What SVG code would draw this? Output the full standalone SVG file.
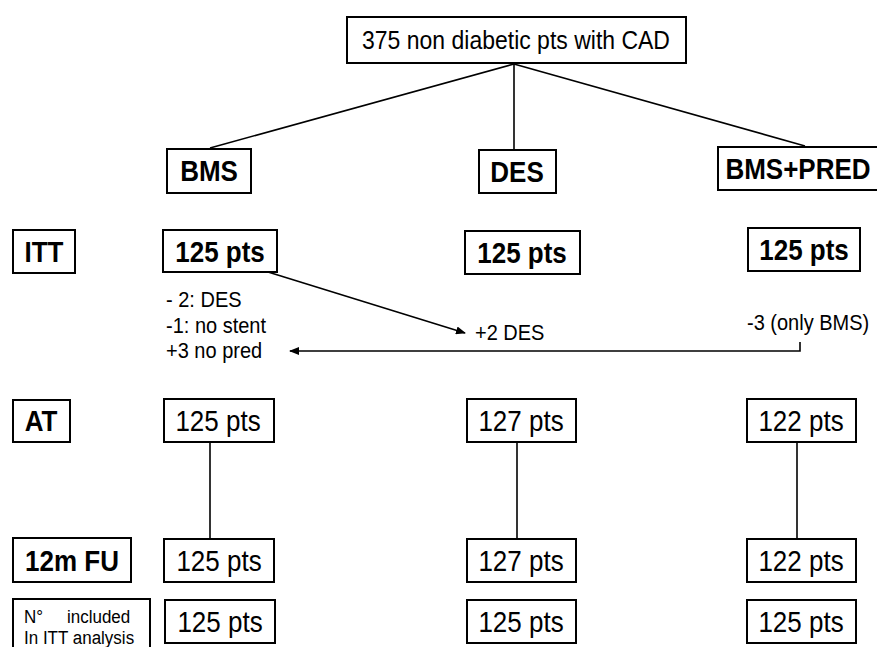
<svg xmlns="http://www.w3.org/2000/svg" width="877" height="647" viewBox="0 0 877 647">
<style>
.box{fill:#fff;stroke:#000;stroke-width:2}
.t{font-family:"Liberation Sans",Arial,sans-serif;fill:#000}
.b{font-weight:bold;font-size:26px}
.r{font-size:26px}
.s{font-size:20px}
.xs{font-size:17px}
.m{text-anchor:middle}
.ln{stroke:#000;stroke-width:1.6;fill:none}
</style>
<defs>
<marker id="ah" markerWidth="10" markerHeight="8" refX="9" refY="4" orient="auto" markerUnits="userSpaceOnUse">
<path d="M0,0 L10,4 L0,8 Z" fill="#000"/>
</marker>
</defs>
<rect width="877" height="647" fill="#fff"/>
<g id="connectors">
<line class="ln" x1="514" y1="64" x2="210" y2="148"/>
<line class="ln" x1="514" y1="64" x2="514" y2="150"/>
<line class="ln" x1="514" y1="64" x2="805" y2="146"/>
<line class="ln" x1="268" y1="272" x2="465" y2="333" marker-end="url(#ah)"/>
<polyline class="ln" points="800,342 800,351 290,351" marker-end="url(#ah)"/>
<line class="ln" x1="210" y1="441" x2="210" y2="539"/>
<line class="ln" x1="517" y1="441" x2="517" y2="539"/>
<line class="ln" x1="797" y1="441" x2="797" y2="539"/>
</g>
<g id="root"><rect class="box" x="347" y="17" width="339" height="46"/><text class="t m" font-size="23" transform="translate(516,49) scale(1,1.12)">375 non diabetic pts with CAD</text></g>
<g id="bms"><rect class="box" x="167" y="149" width="84" height="44"/><text class="t b m" transform="translate(209,181) scale(1,1.12)">BMS</text></g>
<g id="des"><rect class="box" x="479" y="150" width="77" height="43"/><text class="t b m" transform="translate(517,182) scale(1,1.12)">DES</text></g>
<g id="bmspred"><rect class="box" x="718" y="147" width="165" height="43"/><text class="t b m" transform="translate(798,179) scale(1,1.12)">BMS+PRED</text></g>
<g id="lbl-itt"><rect class="box" x="13" y="230" width="62" height="43"/><text class="t b m" transform="translate(44,262) scale(1,1.12)">ITT</text></g>
<g id="itt-bms"><rect class="box" x="163" y="230" width="114" height="42"/><text class="t b m" transform="translate(220,262) scale(1,1.12)">125 pts</text></g>
<g id="itt-des"><rect class="box" x="465" y="231" width="115" height="43"/><text class="t b m" transform="translate(522,263) scale(1,1.12)">125 pts</text></g>
<g id="itt-pred"><rect class="box" x="748" y="228" width="112" height="43"/><text class="t b m" transform="translate(804,260) scale(1,1.12)">125 pts</text></g>
<g id="notes">
<text class="t s" transform="translate(166,307) scale(1,1.1)">- 2: DES</text>
<text class="t s" transform="translate(166,333) scale(1,1.1)">-1: no stent</text>
<text class="t s" transform="translate(166,358) scale(1,1.1)">+3 no pred</text>
<text class="t s" transform="translate(475,340) scale(1,1.1)">+2 DES</text>
<text class="t s" transform="translate(747,330) scale(1,1.1)">-3 (only BMS)</text>
</g>
<g id="lbl-at"><rect class="box" x="13" y="400" width="57" height="42"/><text class="t b m" transform="translate(41,431) scale(1,1.12)">AT</text></g>
<g id="at-bms"><rect class="box" x="164" y="399" width="110" height="43"/><text class="t r m" transform="translate(218,431) scale(1,1.12)">125 pts</text></g>
<g id="at-des"><rect class="box" x="467" y="399" width="109" height="43"/><text class="t r m" transform="translate(521,431) scale(1,1.12)">127 pts</text></g>
<g id="at-pred"><rect class="box" x="747" y="399" width="109" height="43"/><text class="t r m" transform="translate(801,431) scale(1,1.12)">122 pts</text></g>
<g id="lbl-fu"><rect class="box" x="13" y="538" width="118" height="44"/><text class="t b m" transform="translate(72,571) scale(1,1.12)">12m FU</text></g>
<g id="fu-bms"><rect class="box" x="164" y="539" width="110" height="43"/><text class="t r m" transform="translate(219,571) scale(1,1.12)">125 pts</text></g>
<g id="fu-des"><rect class="box" x="467" y="539" width="109" height="43"/><text class="t r m" transform="translate(521,571) scale(1,1.12)">127 pts</text></g>
<g id="fu-pred"><rect class="box" x="747" y="539" width="109" height="43"/><text class="t r m" transform="translate(801,571) scale(1,1.12)">122 pts</text></g>
<g id="lbl-n"><rect class="box" x="13" y="599" width="137" height="55"/><text class="t xs" transform="translate(24,623) scale(1,1.12)"><tspan x="0">N°</tspan><tspan x="43">included</tspan></text><text class="t xs" transform="translate(24,644) scale(1,1.12)">In ITT analysis</text></g>
<g id="n-bms"><rect class="box" x="165" y="600" width="110" height="43"/><text class="t r m" transform="translate(220,632) scale(1,1.12)">125 pts</text></g>
<g id="n-des"><rect class="box" x="467" y="600" width="109" height="43"/><text class="t r m" transform="translate(521,632) scale(1,1.12)">125 pts</text></g>
<g id="n-pred"><rect class="box" x="747" y="600" width="109" height="43"/><text class="t r m" transform="translate(801,632) scale(1,1.12)">125 pts</text></g>
</svg>
